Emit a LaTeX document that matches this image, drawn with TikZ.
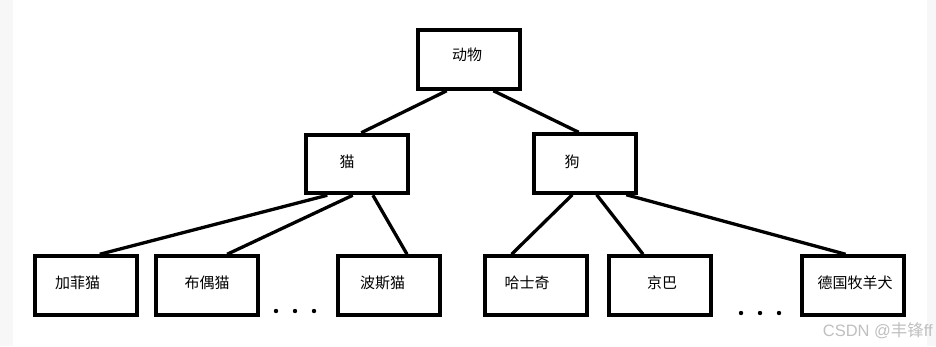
\documentclass[tikz,border=0pt]{standalone}
\usepackage{fontspec}
\newfontfamily\cjk{Noto Sans CJK SC}
\usetikzlibrary{positioning, calc}

\begin{document}
\begin{tikzpicture}[
        x=1pt, y=-1pt,
        node distance=15pt,
        box/.style={rectangle, draw, line width=4pt, minimum width=102pt, minimum height=58.5pt, inner sep=0pt, text height=13pt, text depth=6.6pt, align=center, font=\cjk\fontsize{15pt}{17pt}\selectfont},
        edge/.style={line width=3.3pt}
    ]
        \useasboundingbox (0,0) rectangle (936,346);
        \fill[black!3] (0,0) rectangle (13,346);
        \fill[black!3] (927,0) rectangle (936,346);

        % top levels
        \node[box, text depth=10.6pt] (animal) at (469,59.5) {\hspace*{-4pt}动物};
        \node[box, text depth=5.6pt] (cat) at (357,164) {\hspace*{-20pt}猫};
        \node[box, text depth=5.6pt] (dog) at (585,163.5) {\hspace*{-26pt}狗};

        % leaves
        \node[box] (garfield) at (86,285.5) {\hspace*{-17pt}加菲猫};
        \node[box, right=15pt of garfield] (ragdoll) {布偶猫};
        \node[box, right=76pt of ragdoll] (persian) {\hspace*{-13pt}波斯猫};
        \node[box, right=41pt of persian] (husky) {\hspace*{-18pt}哈士奇};
        \node[box, right=18pt of husky] (peke) {京巴\hspace*{-4pt}};
        \node[box, right=87pt of peke] (shepherd) {德国牧羊犬\hspace*{-4pt}};

        \draw[edge] ($(animal.south west)!0.29!(animal.south east)$) -- ($(cat.north west)!0.54!(cat.north east)$);
        \draw[edge] ($(animal.south west)!0.73!(animal.south east)$) -- ($(dog.north west)!0.44!(dog.north east)$);

        \draw[edge] ($(cat.south west)!0.22!(cat.south east)$) -- ($(garfield.north west)!0.63!(garfield.north east)$);
        \draw[edge] ($(cat.south west)!0.46!(cat.south east)$) -- ($(ragdoll.north west)!0.69!(ragdoll.north east)$);
        \draw[edge] ($(cat.south west)!0.65!(cat.south east)$) -- ($(persian.north west)!0.67!(persian.north east)$);

        \draw[edge] ($(dog.south west)!0.38!(dog.south east)$) -- ($(husky.north west)!0.27!(husky.north east)$);
        \draw[edge] ($(dog.south west)!0.61!(dog.south east)$) -- ($(peke.north west)!0.34!(peke.north east)$);
        \draw[edge] ($(dog.south west)!0.89!(dog.south east)$) -- ($(shepherd.north west)!0.43!(shepherd.north east)$);

        % ellipses
        \foreach \x in {276,295,314} \fill (\x,311) circle (2.2pt);
        \foreach \x in {741,760,779} \fill (\x,313) circle (2.2pt);

        \node[anchor=east, text=black!25, font=\fontspec{Liberation Sans}\fontsize{16.5pt}{18pt}\selectfont, inner sep=0pt] (mark) at (933,331) {CSDN @{\cjk 丰锋}ff};
    \end{tikzpicture}
\end{document}
